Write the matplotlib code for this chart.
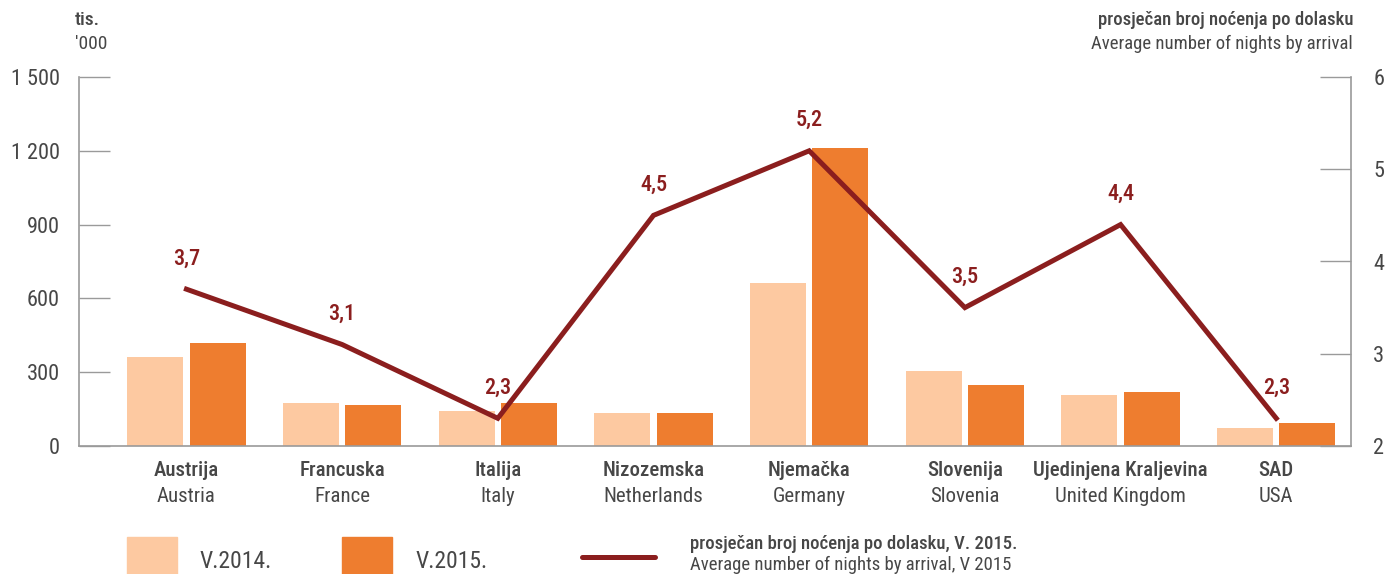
import matplotlib
matplotlib.use("Agg")
import matplotlib.pyplot as plt
import matplotlib.transforms as mtransforms
from matplotlib.font_manager import fontManager

names = {f.name for f in fontManager.ttflist}
FAM = [n for n in ['Roboto Condensed', 'Archivo Narrow', 'Liberation Sans Narrow'] if n in names] + ['Liberation Sans', 'DejaVu Sans']
plt.rcParams['font.family'] = FAM

categories_hr = ["Austrija", "Francuska", "Italija", "Nizozemska", "Njemačka", "Slovenija", "Ujedinjena Kraljevina", "SAD"]
categories_en = ["Austria", "France", "Italy", "Netherlands", "Germany", "Slovenia", "United Kingdom", "USA"]
v2014 = [360, 173, 142, 134, 661, 305, 207, 74]
v2015 = [418, 165, 175, 134, 1212, 248, 218, 92]
avg_nights = [3.7, 3.1, 2.3, 4.5, 5.2, 3.5, 4.4, 2.3]
left_ticks = [0, 300, 600, 900, 1200, 1500]
left_labels = ["0", "300", "600", "900", "1 200", "1 500"]
right_ticks = [2, 3, 4, 5, 6]

C14 = "#FDC9A1"
C15 = "#EE7D2F"
CLINE = "#8B1E1E"
CTXT = "#474747"
CAX = "#9a9a9a"

fig = plt.figure(figsize=(13.98, 5.74), dpi=100)
ax = fig.add_axes([79/1398, 128/574, (1351-79)/1398, 369/574])
ax2 = ax.twinx()

x = list(range(len(categories_hr)))
w = 0.36
ax.bar([i - 0.2 for i in x], v2014, width=w, color=C14, zorder=2)
ax.bar([i + 0.2 for i in x], v2015, width=w, color=C15, zorder=2)
ax.set_ylim(0, 1500)
ax.set_xlim(-0.69, 7.48)
ax.set_yticks(left_ticks)
ax.set_yticklabels(left_labels)
ax.tick_params(axis='y', direction='in', length=22, width=1, color=CAX, pad=14,
               labelsize=16, labelcolor=CTXT)
ax.tick_params(axis='x', length=0, labelbottom=False)
for s in ['top', 'right']:
    ax.spines[s].set_visible(False)
for s in ['left', 'bottom']:
    ax.spines[s].set_color(CAX)
    ax.spines[s].set_linewidth(1.2)

ax2.plot(x, avg_nights, color=CLINE, lw=3.6, solid_joinstyle='miter', zorder=3)
ax2.set_ylim(2, 6)
ax2.set_yticks(right_ticks)
ax2.tick_params(axis='y', direction='in', length=22, width=1, color=CAX, pad=16,
                labelsize=16, labelcolor=CTXT)
for s in ['top', 'left', 'bottom']:
    ax2.spines[s].set_visible(False)
ax2.spines['right'].set_color(CAX)
ax2.spines['right'].set_linewidth(1.2)
for i, v in zip(x, avg_nights):
    ax2.annotate(f"{v:.1f}".replace(".", ","), (i, v), xytext=(0, 22), textcoords='offset points',
                 ha='center', va='center', fontsize=16, color=CLINE, fontweight='medium')

trans = mtransforms.blended_transform_factory(ax.transData, fig.transFigure)
for i, (hr, en) in enumerate(zip(categories_hr, categories_en)):
    ax.text(i, 1 - 470/574, hr, transform=trans, ha='center', va='center', fontsize=15,
            fontweight='medium', color=CTXT)
    ax.text(i, 1 - 496/574, en, transform=trans, ha='center', va='center', fontsize=15,
            color=CTXT)

# axis titles
fig.text(75/1398, 1 - 20/574, "tis.", ha='left', va='center', fontsize=14, fontweight='medium', color=CTXT)
fig.text(75/1398, 1 - 44/574, "'000", ha='left', va='center', fontsize=14, color=CTXT)
fig.text(1353/1398, 1 - 20/574, "prosječan broj noćenja po dolasku", ha='right', va='center',
         fontsize=13.5, fontweight='medium', color=CTXT)
fig.text(1353/1398, 1 - 44/574, "Average number of nights by arrival", ha='right', va='center',
         fontsize=13.5, color=CTXT)

# legend
lax = fig.add_axes([0, 0, 1, 1], facecolor='none')
lax.set_xlim(0, 1398)
lax.set_ylim(574, 0)
lax.axis('off')
lax.add_patch(plt.Rectangle((127, 537), 50, 40, color=C14, clip_on=False))
lax.text(200, 562, "V.2014.", ha='left', va='center', fontsize=17, color=CTXT)
lax.add_patch(plt.Rectangle((342, 537), 50, 40, color=C15, clip_on=False))
lax.text(415, 562, "V.2015.", ha='left', va='center', fontsize=17, color=CTXT)
lax.plot([582, 655], [557, 557], color=CLINE, lw=3.6, solid_capstyle='round')
lax.text(690, 544, "prosječan broj noćenja po dolasku, V. 2015.", ha='left', va='center',
         fontsize=13.5, fontweight='medium', color=CTXT)
lax.text(690, 565, "Average number of nights by arrival, V 2015", ha='left', va='center',
         fontsize=13.5, color=CTXT)

fig.savefig("out.png", dpi=100, facecolor='white')
